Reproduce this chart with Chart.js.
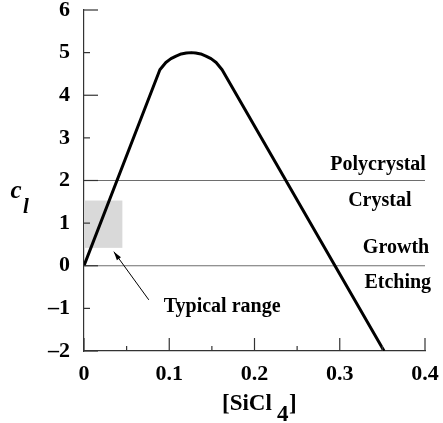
<!DOCTYPE html>
<html>
<head>
<meta charset="utf-8">
<script src="https://cdn.jsdelivr.net/npm/chart.js@4.4.1/dist/chart.umd.min.js"></script>
<style>
  html, body { margin: 0; padding: 0; background: #fff; }
  #wrap { width: 443px; height: 423px; }
</style>
</head>
<body>
<div id="wrap"><canvas id="c"></canvas></div>
<script>
// curve c_l vs [SiCl4]
const sicl4 = [0, 0.089, 0.096, 0.102, 0.108, 0.114, 0.12, 0.126, 0.131, 0.137, 0.143, 0.149, 0.155, 0.162, 0.352];
const cl    = [0, 4.6, 4.77, 4.86, 4.92, 4.97, 4.99, 5.0, 4.99, 4.97, 4.92, 4.86, 4.77, 4.6, -2];

// boundary lines
const polyLine   = 2;   // Polycrystal / Crystal
const growthLine = 0;   // Growth / Etching
const lineEnd    = 0.4;

// typical range box
const boxX = [0, 0.045];
const boxY = [0.42, 1.53];

// arrow from label to box (data coords)
const arrowFrom = [0.076, -0.8];
const arrowTo   = [0.035, 0.33];

const labels = [
  { text: 'Polycrystal',   x: 0.345, y: 2.37 },
  { text: 'Crystal',       x: 0.347, y: 1.53 },
  { text: 'Growth',        x: 0.366, y: 0.42 },
  { text: 'Etching',       x: 0.368, y: -0.40 },
  { text: 'Typical range', x: 0.162, y: -0.96 }
];

const xTicksMajor = [0, 0.1, 0.2, 0.3, 0.4];
const xTicksMinor = [0.05, 0.15, 0.25, 0.35];
const yTicksMajor = [-2, 0, 2, 4, 6];
const yTicksMinor = [-1, 1, 3, 5];

const serif = "'Liberation Serif', 'Times New Roman', serif";

function pts(xs, ys) {
  return xs.map((x, i) => ({ x: x, y: ys[i] }));
}

const extras = {
  id: 'extras',
  beforeDatasetsDraw(chart) {
    const ctx = chart.ctx, xs = chart.scales.x, ys = chart.scales.y;
    // shaded box
    ctx.save();
    ctx.fillStyle = '#d9d9d9';
    let x0 = xs.getPixelForValue(boxX[0]), x1 = xs.getPixelForValue(boxX[1]);
    let y0 = ys.getPixelForValue(boxY[1]), y1 = ys.getPixelForValue(boxY[0]);
    ctx.fillRect(x0, y0, x1 - x0, y1 - y0);
    ctx.restore();
  },
  afterDraw(chart) {
    const ctx = chart.ctx, xs = chart.scales.x, ys = chart.scales.y;
    const ca = chart.chartArea;
    ctx.save();
    ctx.strokeStyle = '#333';
    ctx.lineWidth = 1.2;
    // inward ticks
    xTicksMajor.forEach(v => {
      let p = xs.getPixelForValue(v);
      ctx.beginPath(); ctx.moveTo(p, ca.bottom); ctx.lineTo(p, ca.bottom - 13); ctx.stroke();
    });
    xTicksMinor.forEach(v => {
      let p = xs.getPixelForValue(v);
      ctx.beginPath(); ctx.moveTo(p, ca.bottom); ctx.lineTo(p, ca.bottom - 5); ctx.stroke();
    });
    yTicksMajor.forEach(v => {
      let p = ys.getPixelForValue(v);
      ctx.beginPath(); ctx.moveTo(ca.left, p); ctx.lineTo(ca.left + 14, p); ctx.stroke();
    });
    yTicksMinor.forEach(v => {
      let p = ys.getPixelForValue(v);
      ctx.beginPath(); ctx.moveTo(ca.left, p); ctx.lineTo(ca.left + 6, p); ctx.stroke();
    });

    // arrow
    let ax = xs.getPixelForValue(arrowFrom[0]), ay = ys.getPixelForValue(arrowFrom[1]);
    let bx = xs.getPixelForValue(arrowTo[0]), by = ys.getPixelForValue(arrowTo[1]);
    ctx.strokeStyle = '#000';
    ctx.lineWidth = 1;
    ctx.beginPath(); ctx.moveTo(ax, ay); ctx.lineTo(bx, by); ctx.stroke();
    let ang = Math.atan2(by - ay, bx - ax);
    ctx.fillStyle = '#000';
    ctx.beginPath();
    ctx.moveTo(bx, by);
    ctx.lineTo(bx - 9 * Math.cos(ang - 0.28), by - 9 * Math.sin(ang - 0.28));
    ctx.lineTo(bx - 9 * Math.cos(ang + 0.28), by - 9 * Math.sin(ang + 0.28));
    ctx.closePath();
    ctx.fill();

    // region labels
    ctx.fillStyle = '#000';
    ctx.font = 'bold 20px ' + serif;
    ctx.textAlign = 'center';
    ctx.textBaseline = 'middle';
    labels.forEach(l => {
      ctx.fillText(l.text, xs.getPixelForValue(l.x), ys.getPixelForValue(l.y));
    });

    // y title c_l
    ctx.font = 'italic bold 25px ' + serif;
    ctx.fillText('c', 16, 192);
    ctx.font = 'italic bold 21px ' + serif;
    ctx.fillText('l', 26, 208);

    // x title [SiCl 4]
    ctx.font = 'bold 23px ' + serif;
    ctx.textAlign = 'left';
    ctx.fillText('[SiCl', 222, 404);
    ctx.fillText('4', 277, 415);
    ctx.fillText(']', 289, 404);
    ctx.restore();
  }
};

new Chart(document.getElementById('c'), {
  type: 'scatter',
  data: {
    datasets: [
      {
        data: pts(sicl4, cl),
        showLine: true,
        borderColor: '#000',
        borderWidth: 3,
        pointRadius: 0,
        tension: 0,
        borderJoinStyle: 'round'
      },
      {
        data: [{ x: 0, y: polyLine }, { x: lineEnd, y: polyLine }],
        showLine: true,
        borderColor: '#6e6e6e',
        borderWidth: 1.2,
        pointRadius: 0
      },
      {
        data: [{ x: 0, y: growthLine }, { x: lineEnd, y: growthLine }],
        showLine: true,
        borderColor: '#6e6e6e',
        borderWidth: 1.2,
        pointRadius: 0
      }
    ]
  },
  options: {
    responsive: true,
    maintainAspectRatio: false,
    animation: false,
    layout: { padding: { left: 0, right: 18, top: 10, bottom: 0 } },
    plugins: { legend: { display: false }, tooltip: { enabled: false } },
    scales: {
      x: {
        type: 'linear',
        min: 0, max: 0.4,
        grid: { display: false, drawTicks: false },
        border: { display: true, color: '#333', width: 1.2 },
        ticks: {
          stepSize: 0.1,
          padding: 10,
          color: '#000',
          font: { family: serif, size: 22, weight: 'bold' },
          callback: v => (Math.round(v * 10) / 10).toString()
        },
        afterFit: s => { s.height = 72; s.paddingLeft = 0; s.paddingRight = 0; }
      },
      y: {
        type: 'linear',
        min: -2, max: 6,
        grid: { display: false, drawTicks: false },
        border: { display: true, color: '#333', width: 1.2 },
        ticks: {
          stepSize: 1,
          padding: 14,
          color: '#000',
          font: { family: serif, size: 22, weight: 'bold' },
          callback: v => v < 0 ? '\u2013' + Math.abs(v) : String(v)
        },
        afterFit: s => { s.width = 84; s.paddingTop = 0; s.paddingBottom = 0; }
      }
    }
  },
  plugins: [extras]
});
</script>
</body>
</html>
